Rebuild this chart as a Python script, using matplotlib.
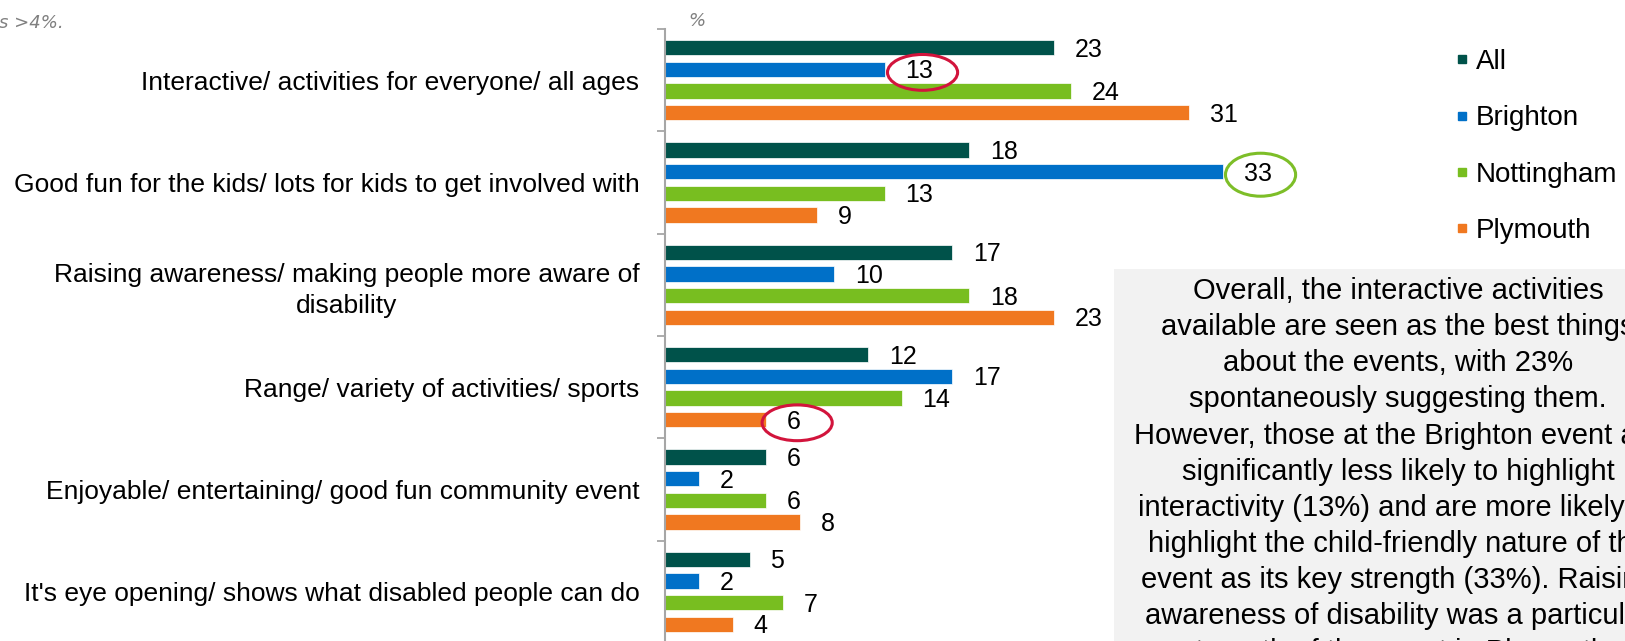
import numpy as np
import matplotlib.pyplot as plt
from matplotlib.patches import Ellipse, Rectangle
from matplotlib.lines import Line2D

plt.rcParams['font.family'] = ['Liberation Sans', 'DejaVu Sans']

# data (%)
categories = ["Interactive/ activities for everyone/ all ages",
              "Good fun for the kids/ lots for kids to get involved with",
              "Raising awareness/ making people more aware of\ndisability",
              "Range/ variety of activities/ sports",
              "Enjoyable/ entertaining/ good fun community event",
              "It's eye opening/ shows what disabled people can do"]
series = ["All", "Brighton", "Nottingham", "Plymouth"]
colours = ["#00524A", "#0070C8", "#78BE20", "#F07820"]
all_vals = [23, 18, 17, 12, 6, 5]
brighton_vals = [13, 33, 10, 17, 2, 2]
nottingham_vals = [24, 13, 18, 14, 6, 7]
plymouth_vals = [31, 9, 23, 6, 8, 4]
values = [all_vals, brighton_vals, nottingham_vals, plymouth_vals]
# circled numbers: (category, series, ring colour)
highlights = [(0, 1, "#D2143C"), (1, 1, "#7DBE28"), (3, 3, "#D2143C")]
ring_heights = [0.35, 0.42, 0.35]

summary = ("Overall, the interactive activities\n"
           "available are seen as the best things\n"
           "about the events, with 23%\n"
           "spontaneously suggesting them.\n"
           "However, those at the Brighton event are\n"
           "significantly less likely to highlight\n"
           "interactivity (13%) and are more likely to\n"
           "highlight the child-friendly nature of the\n"
           "event as its key strength (33%). Raising\n"
           "awareness of disability was a particular\n"
           "strength of the event in Plymouth.")

W, H = 1625, 641
fig = plt.figure(figsize=(W/100, H/100), dpi=100)
ax = fig.add_axes([665/W, -2/H, 760.5/W, 614/H])
ax.patch.set_visible(False)

y = np.arange(len(categories))
pitch = 0.212
offsets = (np.arange(4) - 1.5)*pitch
for k in range(4):
    ax.barh(y + offsets[k], values[k], height=0.151, color=colours[k],
            edgecolor="white", linewidth=0.5, zorder=2)
    for ci, v in enumerate(values[k]):
        ax.annotate(str(v), xy=(v, ci + offsets[k]), xytext=(15, -1.5),
                    textcoords="offset points", va="center", ha="left",
                    fontsize=18, zorder=4)

for (ci, si, col), rh in zip(highlights, ring_heights):
    v = values[si][ci]
    cx = v + 1.4 + 0.42*len(str(v))
    ax.add_patch(Ellipse((cx, ci + offsets[si] + 0.03), 4.15, rh, fill=False,
                         edgecolor=col, lw=2.2, clip_on=False, zorder=5))

ax.set_xlim(0, 45)
ax.set_ylim(5.5, -0.5)
ax.set_yticks(y)
ax.set_yticklabels(categories, fontsize=19)
for t in ax.get_yticklabels():
    t.set_multialignment("center")
    t.set_linespacing(1.35)
ax.set_yticks(np.arange(-0.5, 6, 1), minor=True)
ax.tick_params(axis="y", which="major", length=0, pad=18.5)
ax.tick_params(axis="y", which="minor", length=5.8, width=1.3, color="#A6A6A6")
ax.xaxis.set_visible(False)
for s in ["top", "right", "bottom"]:
    ax.spines[s].set_visible(False)
ax.spines["left"].set_color("#A6A6A6")
ax.spines["left"].set_linewidth(1.5)

handles = [Line2D([], [], marker="s", ls="none", color=c, markersize=6) for c in colours]
fig.legend(handles, series, loc="upper left", bbox_to_anchor=(1455/W, 1 - 49/H),
           frameon=False, fontsize=20, handlelength=0.5, handletextpad=0.25,
           labelspacing=1.09, borderpad=0, borderaxespad=0)

fig.add_artist(Rectangle((1114/W, -0.05), 0.5, 1 - 269/H + 0.05, transform=fig.transFigure,
                         facecolor="#F2F2F2", edgecolor="none", zorder=0))
fig.text(1398/W, 1 - 277/H, summary, ha="center", va="top", fontsize=21,
         linespacing=1.37, multialignment="center")

fig.text(64/W, 1 - 28/H, "Only showing responses >4%.", ha="right", va="baseline",
         fontsize=13, style="italic", color="#808080", family="DejaVu Sans")
fig.text(697/W, 1 - 21/H, "%", ha="center", va="center", fontsize=13,
         style="italic", color="#808080", family="DejaVu Sans")

fig.savefig("out.png", dpi=100)
